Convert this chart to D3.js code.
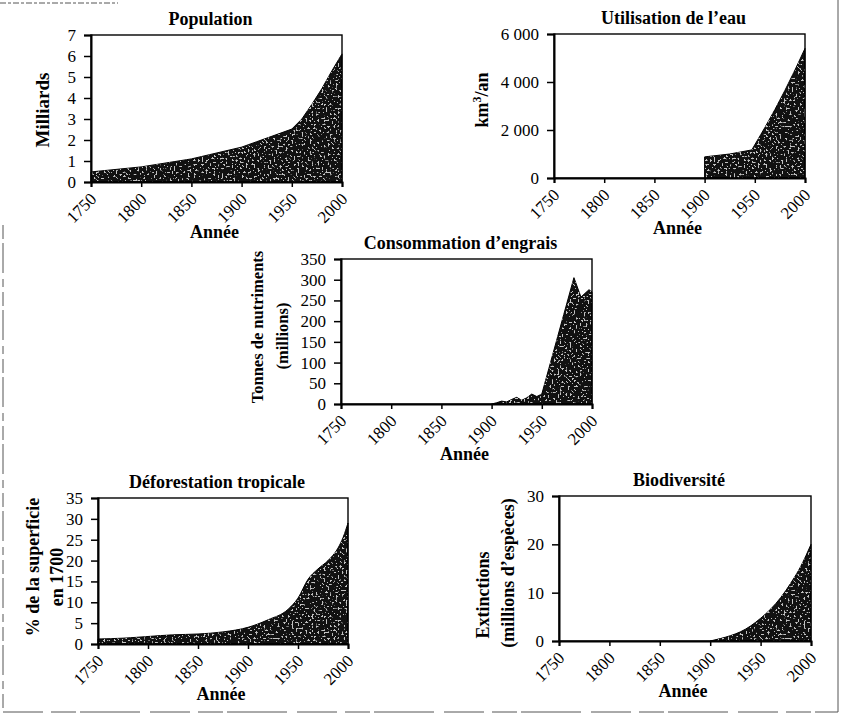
<!DOCTYPE html>
<html>
<head>
<meta charset="utf-8">
<script src="https://cdn.jsdelivr.net/npm/d3@7"></script>
<style>
  body { margin: 0; background: #fff; }
  svg { display: block; font-family: 'Liberation Serif', 'Times New Roman', serif; }
</style>
</head>
<body>
<div id="chart"></div>
<script>
// data
var popYears = [1750, 1800, 1850, 1900, 1950, 1960, 1970, 1980, 1990, 2000];
var popValues = [0.48, 0.72, 1.1, 1.66, 2.52, 3.0, 3.7, 4.45, 5.3, 6.1];

var waterYears = [1900, 1925, 1947, 1960, 1970, 1980, 1990, 2000];
var waterValues = [880, 1000, 1170, 2100, 2850, 3650, 4500, 5400];

var fertYears = [1900, 1905, 1910, 1915, 1920, 1925, 1930, 1935, 1940, 1945, 1950, 1982, 1985, 1989, 1997, 2000];
var fertValues = [0, 3, 7, 5, 11, 16, 9, 15, 24, 18, 24, 305, 285, 258, 276, 270];

var deforYears = [1750, 1775, 1800, 1825, 1850, 1875, 1900, 1920, 1940, 1950, 1960, 1970, 1980, 1990, 1995, 2000];
var deforValues = [1.2, 1.4, 1.8, 2.2, 2.4, 2.9, 4.0, 5.8, 8.3, 11.0, 15.5, 18.0, 20.0, 23.0, 25.5, 29.0];

var bioYears = [1900, 1910, 1920, 1930, 1940, 1950, 1960, 1970, 1980, 1990, 2000];
var bioValues = [0, 0.5, 1.1, 1.9, 3.1, 4.7, 6.6, 9.0, 12.0, 15.5, 20.0];

var xTicks = [1750, 1800, 1850, 1900, 1950, 2000];
var popTicks = [0, 1, 2, 3, 4, 5, 6, 7];
var waterTicks = [0, 2000, 4000, 6000];
var fertTicks = [0, 50, 100, 150, 200, 250, 300, 350];
var deforTicks = [0, 5, 10, 15, 20, 25, 30, 35];
var bioTicks = [0, 10, 20, 30];

var W = 843, H = 720;

var svg = d3.select('#chart').append('svg')
  .attr('width', W)
  .attr('height', H);

var defs = svg.append('defs');

// white speckles to imitate the stippled print
var noise = defs.append('filter')
  .attr('id', 'speckle')
  .attr('x', 0).attr('y', 0).attr('width', 1).attr('height', 1);
noise.append('feTurbulence')
  .attr('type', 'fractalNoise')
  .attr('baseFrequency', 0.5)
  .attr('numOctaves', 2)
  .attr('seed', 3)
  .attr('result', 'n');
noise.append('feColorMatrix')
  .attr('in', 'n')
  .attr('type', 'matrix')
  .attr('values', '0 0 0 0 1  0 0 0 0 1  0 0 0 0 1  14 0 0 0 -8.3');

// scan border
var border = svg.append('g')
  .attr('fill', 'none')
  .attr('stroke', '#555')
  .attr('stroke-width', 1);
border.append('line').attr('x1', 0).attr('y1', 3).attr('x2', 118).attr('y2', 3)
  .attr('stroke-dasharray', '6,2,3,2');
border.append('line').attr('x1', 838).attr('y1', 0).attr('x2', 838).attr('y2', 712);
border.append('line').attr('x1', 3).attr('y1', 225).attr('x2', 3).attr('y2', 712)
  .attr('stroke-dasharray', '14,4,30,6,8,5');
border.append('line').attr('x1', 3).attr('y1', 712).attr('x2', 838).attr('y2', 712)
  .attr('stroke-dasharray', '40,8,25,4,60,10');

var spaceFmt = function(d) {
  return d3.format(',')(d).replace(',', '\u00a0');
};

function drawPanel(id, years, values, yTicks, o) {
  var x = d3.scaleLinear().domain([1750, 2000]).range([o.left, o.right]);
  var y = d3.scaleLinear().domain([0, yTicks[yTicks.length - 1]]).range([o.bottom, o.top]);
  var g = svg.append('g').attr('class', 'panel-' + id);
  var cx = (o.left + o.right) / 2;

  var area = d3.area()
    .x(function(d, i) { return x(years[i]); })
    .y0(y(0))
    .y1(function(d) { return y(d); })
    .curve(o.curve || d3.curveLinear);

  defs.append('clipPath').attr('id', 'clip-' + id)
    .append('path').attr('d', area(values));

  g.append('path')
    .attr('d', area(values))
    .attr('fill', '#111')
    .attr('stroke', '#000')
    .attr('stroke-width', 1);

  g.append('rect')
    .attr('x', o.left).attr('y', o.top)
    .attr('width', o.right - o.left).attr('height', o.bottom - o.top)
    .attr('clip-path', 'url(#clip-' + id + ')')
    .attr('filter', 'url(#speckle)')
    .attr('opacity', 0.75);

  // frame
  g.append('rect')
    .attr('x', o.left).attr('y', o.top)
    .attr('width', o.right - o.left).attr('height', o.bottom - o.top)
    .attr('fill', 'none')
    .attr('stroke', '#000')
    .attr('stroke-width', 1.4);

  var yAxis = g.append('g')
    .attr('transform', 'translate(' + o.left + ',0)')
    .call(d3.axisLeft(y).tickValues(yTicks).tickSize(7).tickPadding(8)
      .tickFormat(o.fmt || d3.format('d')));
  yAxis.select('.domain').attr('stroke-width', 2);
  yAxis.selectAll('line').attr('stroke-width', 1.5);
  yAxis.selectAll('text')
    .attr('font-family', "'Liberation Serif', serif")
    .attr('font-size', 17)
    .attr('fill', '#000');

  var xAxis = g.append('g')
    .attr('transform', 'translate(0,' + o.bottom + ')')
    .call(d3.axisBottom(x).tickValues(xTicks).tickSize(5).tickFormat(d3.format('d')));
  xAxis.select('.domain').attr('stroke-width', 2);
  xAxis.selectAll('line').attr('stroke-width', 1.5);
  xAxis.selectAll('text')
    .attr('font-family', "'Liberation Serif', serif")
    .attr('font-size', 17)
    .attr('fill', '#000')
    .attr('text-anchor', 'end')
    .attr('dy', null)
    .attr('y', 0)
    .attr('transform', 'translate(6,18) rotate(-45)');

  g.append('text')
    .attr('x', cx - 6)
    .attr('y', o.top - 10)
    .attr('text-anchor', 'middle')
    .attr('font-weight', 'bold')
    .attr('font-size', 18)
    .text(o.title);

  g.append('text')
    .attr('x', cx - 2)
    .attr('y', o.bottom + 56)
    .attr('text-anchor', 'middle')
    .attr('font-weight', 'bold')
    .attr('font-size', 18)
    .text('Année');

  o.yTitle.forEach(function(line, i) {
    var t = g.append('text')
      .attr('transform', 'translate(' + (o.yTitleX[i] + 6) + ',' + o.yTitleY[i] + ') rotate(-90)')
      .attr('text-anchor', 'middle')
      .attr('font-weight', 'bold')
      .attr('font-size', o.yTitleSize);
    if (line === 'km3/an') {
      t.append('tspan').text('km');
      t.append('tspan').attr('baseline-shift', 'super').attr('font-size', 12).text('3');
      t.append('tspan').text('/an');
    } else {
      t.text(line);
    }
  });
}

drawPanel('pop', popYears, popValues, popTicks, {
  left: 91, right: 342, top: 35, bottom: 182,
  title: 'Population', yTitle: ['Milliards'], yTitleX: [43], yTitleY: [110], yTitleSize: 19
});

drawPanel('water', waterYears, waterValues, waterTicks, {
  left: 554, right: 805, top: 34, bottom: 178, fmt: spaceFmt,
  title: 'Utilisation de l\u2019eau', yTitle: ['km3/an'], yTitleX: [482], yTitleY: [100], yTitleSize: 18
});

drawPanel('fert', fertYears, fertValues, fertTicks, {
  left: 341, right: 592, top: 259, bottom: 404,
  title: 'Consommation d\u2019engrais', yTitle: ['Tonnes de nutriments', '(millions)'],
  yTitleX: [257, 282], yTitleY: [327, 336], yTitleSize: 16.5
});

drawPanel('defor', deforYears, deforValues, deforTicks, {
  left: 98, right: 348, top: 498, bottom: 644, curve: d3.curveMonotoneX,
  title: 'Déforestation tropicale', yTitle: ['% de la superficie', 'en 1700'],
  yTitleX: [33, 57], yTitleY: [567, 577], yTitleSize: 18
});

drawPanel('bio', bioYears, bioValues, bioTicks, {
  left: 559, right: 811, top: 496, bottom: 641, curve: d3.curveMonotoneX,
  title: 'Biodiversité', yTitle: ['Extinctions', '(millions d\u2019espèces)'],
  yTitleX: [483, 508], yTitleY: [595, 573], yTitleSize: 18
});
</script>
</body>
</html>
